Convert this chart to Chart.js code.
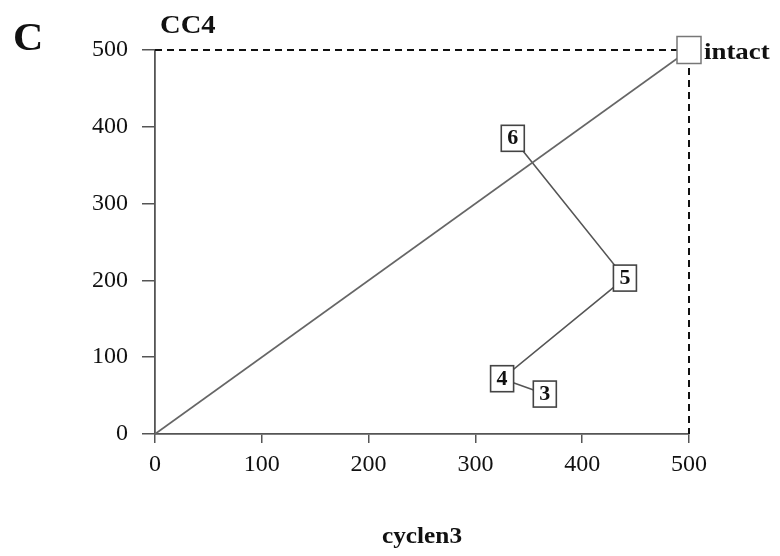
<!DOCTYPE html>
<html>
<head>
<meta charset="utf-8">
<script src="https://cdn.jsdelivr.net/npm/chart.js@4/dist/chart.umd.min.js"></script>
<style>
  html, body { margin: 0; padding: 0; background: #fff; }
  #wrap { width: 780px; height: 556px; }
</style>
</head>
<body>
<div id="wrap"><canvas id="c" width="780" height="556"></canvas></div>
<script>
// Development stages and their position in (cyclen3, CC4) space
const stages = ['6', '5', '4', '3'];
const cyclen3 = [335, 440, 325, 365];
const cc4 = [385, 203, 72, 52];

// Intact reference point
const intactLabel = 'intact';
const intactX = 500;
const intactY = 500;

// Axis ticks
const tickValues = [0, 100, 200, 300, 400, 500];

const SERIF = '"Liberation Serif", "Times New Roman", serif';

const trajectory = stages.map((s, i) => ({ x: cyclen3[i], y: cc4[i] }));
const diagonal = [{ x: tickValues[0], y: tickValues[0] }, { x: intactX, y: intactY }];
const guide = [{ x: tickValues[0], y: intactY }, { x: intactX, y: intactY }, { x: intactX, y: tickValues[0] }];

// Text drawn slightly widened, like the typeset headings
function wideText(ctx, text, x, y, align, stretch) {
  ctx.save();
  ctx.translate(x, y);
  ctx.scale(stretch, 1);
  ctx.textAlign = align;
  ctx.fillText(text, 0, 0);
  ctx.restore();
}

// Boxes around each stage, the intact box and the headings
const annotate = {
  id: 'annotate',
  afterDatasetsDraw(chart) {
    const { ctx, scales: { x, y }, chartArea } = chart;
    ctx.save();

    // intact marker
    const ix = x.getPixelForValue(intactX), iy = y.getPixelForValue(intactY);
    ctx.fillStyle = '#fff';
    ctx.strokeStyle = '#777';
    ctx.lineWidth = 1.5;
    ctx.fillRect(ix - 12, iy - 13.5, 24, 27);
    ctx.strokeRect(ix - 12, iy - 13.5, 24, 27);
    ctx.fillStyle = '#111';
    ctx.font = 'bold 24px ' + SERIF;
    ctx.textBaseline = 'alphabetic';
    wideText(ctx, intactLabel, ix + 15, iy + 9, 'left', 1.12);

    // stage boxes
    stages.forEach((s, i) => {
      const px = x.getPixelForValue(cyclen3[i]);
      const py = y.getPixelForValue(cc4[i]);
      ctx.fillStyle = '#fff';
      ctx.strokeStyle = '#444';
      ctx.lineWidth = 1.6;
      ctx.fillRect(px - 11.5, py - 13, 23, 26);
      ctx.strokeRect(px - 11.5, py - 13, 23, 26);
      ctx.fillStyle = '#111';
      ctx.font = 'bold 20px ' + SERIF;
      ctx.textBaseline = 'middle';
      wideText(ctx, s, px, py + 1, 'center', 1.1);
    });

    // panel letter and headings
    ctx.fillStyle = '#111';
    ctx.textBaseline = 'alphabetic';
    ctx.font = 'bold 40px ' + SERIF;
    wideText(ctx, 'C', 13, 50, 'left', 1.05);
    ctx.font = 'bold 26px ' + SERIF;
    wideText(ctx, 'CC4', 160, 33, 'left', 1.1);
    ctx.font = 'bold 23px ' + SERIF;
    wideText(ctx, 'cyclen3', (chartArea.left + chartArea.right) / 2, 543, 'center', 1.1);
    ctx.restore();
  }
};

new Chart(document.getElementById('c'), {
  type: 'scatter',
  data: {
    datasets: [
      {
        data: guide,
        showLine: true,
        borderColor: '#111',
        borderWidth: 2,
        borderDash: [7, 5],
        pointRadius: 0,
        clip: false
      },
      {
        data: diagonal,
        showLine: true,
        borderColor: '#666',
        borderWidth: 1.6,
        pointRadius: 0,
        clip: false
      },
      {
        data: trajectory,
        showLine: true,
        borderColor: '#555',
        borderWidth: 1.6,
        pointRadius: 0,
        clip: false
      }
    ]
  },
  options: {
    responsive: false,
    animation: false,
    events: [],
    layout: { padding: { top: 50, right: 91, left: 0, bottom: 0 } },
    plugins: { legend: { display: false }, tooltip: { enabled: false } },
    scales: {
      x: {
        type: 'linear',
        min: 0, max: 500,
        afterFit(s) { s.height = 122; },
        afterBuildTicks(s) { s.ticks = tickValues.map(v => ({ value: v })); },
        grid: { drawOnChartArea: false, drawTicks: true, tickLength: 9, color: '#555', lineWidth: 1.5 },
        border: { display: true, color: '#555', width: 1.8 },
        ticks: { padding: 7, color: '#111', font: { family: SERIF, size: 24 } }
      },
      y: {
        type: 'linear',
        min: 0, max: 500,
        afterFit(s) { s.width = 155; },
        afterBuildTicks(s) { s.ticks = tickValues.map(v => ({ value: v })); },
        grid: { drawOnChartArea: false, drawTicks: true, tickLength: 13, color: '#555', lineWidth: 1.5 },
        border: { display: true, color: '#555', width: 1.8 },
        ticks: { padding: 14, color: '#111', font: { family: SERIF, size: 24 } }
      }
    }
  },
  plugins: [annotate]
});
</script>
</body>
</html>
